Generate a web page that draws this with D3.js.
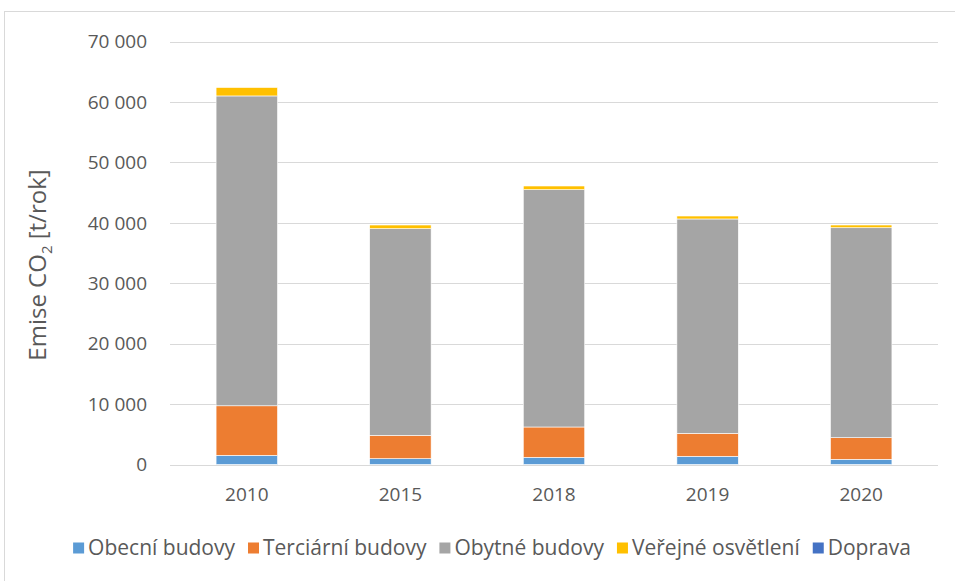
<!DOCTYPE html>
<html>
<head>
<meta charset="utf-8">
<script src="https://cdn.jsdelivr.net/npm/d3@7"></script>
<style>
  body { margin: 0; background: #fff; }
  text { font-family: "Open Sans", "Noto Sans", sans-serif; fill: #595959; }
</style>
</head>
<body>
<svg id="chart" width="955" height="581"></svg>
<script>
// Years on the x axis
const years = ['2010', '2015', '2018', '2019', '2020'];

// Series (t CO2 / year), stacked bottom to top
const seriesNames = ['Obecní budovy', 'Terciární budovy', 'Obytné budovy', 'Veřejné osvětlení', 'Doprava'];
const obecni = [1520, 960, 1190, 1360, 860];
const tercialni = [8200, 3870, 5020, 3800, 3580];
const obytne = [51300, 34210, 39290, 35490, 34760];
const osvetleni = [1400, 610, 610, 490, 450];
const doprava = [0, 0, 0, 0, 0];

const yTicks = [0, 10000, 20000, 30000, 40000, 50000, 60000, 70000];
const colors = ['#5B9BD5', '#ED7D31', '#A5A5A5', '#FFC000', '#4472C4'];

const rows = years.map((yr, i) => ({
  year: yr,
  s0: obecni[i], s1: tercialni[i], s2: obytne[i], s3: osvetleni[i], s4: doprava[i]
}));

const svg = d3.select('#chart');
const margin = { left: 170, right: 17, top: 41.7, bottom: 116.5 };
const W = 955, H = 581;

// outer chart border
svg.append('rect')
  .attr('x', 4.5).attr('y', 11.5)
  .attr('width', 960).attr('height', 600)
  .attr('fill', 'none').attr('stroke', '#D9D9D9').attr('stroke-width', 1);

const x = d3.scaleBand()
  .domain(years)
  .range([margin.left, W - margin.right])
  .paddingInner(0.6).paddingOuter(0.3);

const y = d3.scaleLinear()
  .domain([0, 70000])
  .range([H - margin.bottom, margin.top]);

const fmt = v => d3.format(',')(v).replace(/,/g, ' ');

// gridlines
svg.append('g')
  .selectAll('line')
  .data(yTicks)
  .join('line')
  .attr('x1', margin.left).attr('x2', W - margin.right)
  .attr('y1', d => Math.round(y(d)) + 0.5).attr('y2', d => Math.round(y(d)) + 0.5)
  .attr('stroke', '#D9D9D9').attr('stroke-width', 1);

// y tick labels
svg.append('g')
  .selectAll('text')
  .data(yTicks)
  .join('text')
  .attr('x', 147).attr('y', d => y(d))
  .attr('dy', '0.35em')
  .attr('text-anchor', 'end')
  .attr('font-size', '19px')
  .text(fmt);

// stacked bars
const stack = d3.stack().keys(['s0', 's1', 's2', 's3', 's4']);
const layers = stack(rows);

svg.append('g')
  .selectAll('g')
  .data(layers)
  .join('g')
  .attr('fill', (d, i) => colors[i])
  .selectAll('rect')
  .data(d => d)
  .join('rect')
  .attr('x', d => x(d.data.year))
  .attr('width', x.bandwidth())
  .attr('y', d => y(d[1]))
  .attr('height', d => Math.max(0, y(d[0]) - y(d[1])))
  .attr('stroke', '#fff').attr('stroke-width', 0.6);

// x axis labels
svg.append('g')
  .selectAll('text')
  .data(years)
  .join('text')
  .attr('x', d => x(d) + x.bandwidth() / 2)
  .attr('y', 494)
  .attr('dy', '0.35em')
  .attr('text-anchor', 'middle')
  .attr('font-size', '19px')
  .text(d => d);

// y axis title
const title = svg.append('text')
  .attr('transform', 'translate(46,265) rotate(-90)')
  .attr('text-anchor', 'middle')
  .attr('font-size', '24px');
title.append('tspan').text('Emise CO');
title.append('tspan').attr('font-size', '15px').attr('dy', 6).text('2');
title.append('tspan').attr('dy', -6).text(' [t/rok]');

// legend, centred under the chart
const legend = svg.append('g');
let lx = 0;
seriesNames.forEach((name, i) => {
  const g = legend.append('g').attr('transform', `translate(${lx},0)`);
  g.append('rect').attr('x', 0).attr('y', -5.5).attr('width', 11).attr('height', 11).attr('fill', colors[i]);
  const t = g.append('text').attr('x', 15).attr('y', 0).attr('dy', '0.35em')
    .attr('font-size', '21px').text(name);
  lx += 15 + t.node().getComputedTextLength() + 13;
});
const legendW = lx - 13;
legend.attr('transform', `translate(${492 - legendW / 2},548)`);
</script>
</body>
</html>
